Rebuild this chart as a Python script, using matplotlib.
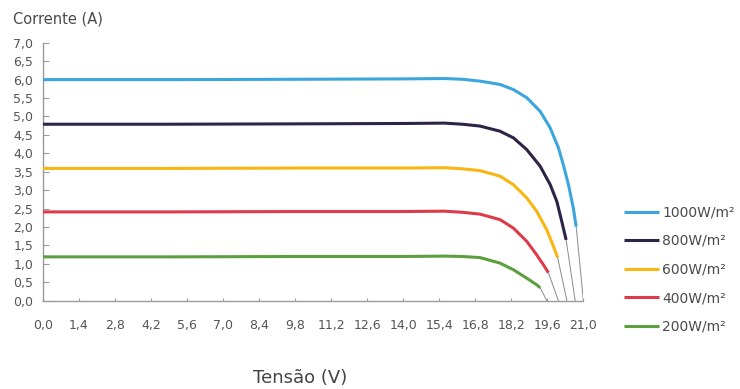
import numpy as np
import matplotlib.pyplot as plt

# curvas I-V do modulo para cada irradiancia
irradiancias = ["1000W/m²", "800W/m²", "600W/m²", "400W/m²", "200W/m²"]
cores = ["#3ba6de", "#2c2346", "#f8b612", "#dd3b4a", "#5c9f3e"]

v_1000 = [0.0, 5.0, 10.0, 14.0, 15.6, 16.3, 16.99, 17.77, 18.29, 18.81, 19.33, 19.72,
          20.04, 20.23, 20.43, 20.62, 20.73]
i_1000 = [6.00, 6.00, 6.01, 6.02, 6.03, 6.01, 5.96, 5.87, 5.73, 5.51, 5.14, 4.69,
          4.15, 3.69, 3.15, 2.51, 2.01]

v_800 = [0.0, 5.0, 10.0, 14.0, 15.6, 16.3, 16.99, 17.77, 18.29, 18.81, 19.33, 19.72,
         19.98, 20.17, 20.34]
i_800 = [4.79, 4.79, 4.80, 4.81, 4.82, 4.79, 4.74, 4.60, 4.42, 4.10, 3.65, 3.15,
         2.69, 2.15, 1.65]

v_600 = [0.0, 5.0, 10.0, 14.0, 15.6, 16.3, 16.99, 17.77, 18.29, 18.81, 19.20, 19.59,
         19.85, 20.01]
i_600 = [3.59, 3.59, 3.60, 3.60, 3.61, 3.58, 3.53, 3.38, 3.15, 2.79, 2.42, 1.92,
         1.47, 1.17]

v_400 = [0.0, 5.0, 10.0, 14.0, 15.6, 16.3, 16.99, 17.77, 18.29, 18.81, 19.20, 19.46, 19.65]
i_400 = [2.41, 2.41, 2.42, 2.42, 2.43, 2.40, 2.35, 2.20, 1.97, 1.61, 1.24, 0.97, 0.76]

v_200 = [0.0, 5.0, 10.0, 14.0, 15.6, 16.3, 16.99, 17.77, 18.29, 18.81, 19.20, 19.33]
i_200 = [1.19, 1.19, 1.20, 1.20, 1.21, 1.20, 1.17, 1.02, 0.84, 0.61, 0.43, 0.35]

# tensao de circuito aberto (fim das linhas cinzentas)
v_oc = [21.01, 20.69, 20.37, 20.04, 19.59]

x_ticks = [round(1.4 * k, 1) for k in range(16)]
y_ticks = [0.5 * k for k in range(15)]
x_labels = [f"{t:.1f}".replace(".", ",") for t in x_ticks]
y_labels = [f"{t:.1f}".replace(".", ",") for t in y_ticks]

curvas = [(v_1000, i_1000), (v_800, i_800), (v_600, i_600), (v_400, i_400), (v_200, i_200)]

fig = plt.figure(figsize=(7.4, 3.89), dpi=100)
ax = fig.add_axes([0.058, 0.227, 0.730, 0.663])

for (v, i), voc, cor, nome in zip(curvas, v_oc, cores, irradiancias):
    ax.plot([v[-1], voc], [i[-1], 0], color="#8a8a8a", lw=0.7, zorder=2)
    ax.plot(v, i, color=cor, lw=2.2, solid_capstyle="butt",
            solid_joinstyle="round", label=nome, zorder=3)

ax.set_xlim(0, 21)
ax.set_ylim(0, 7)
ax.set_xticks(x_ticks)
ax.set_xticklabels(x_labels)
ax.set_yticks(y_ticks)
ax.set_yticklabels(y_labels)

for lado in ["top", "right"]:
    ax.spines[lado].set_visible(False)
for lado in ["left", "bottom"]:
    ax.spines[lado].set_color("#9a9a9a")
    ax.spines[lado].set_linewidth(1.0)

ax.tick_params(axis="y", direction="in", length=4.5, width=0.8, color="#9a9a9a",
               labelsize=9, labelcolor="#555555", pad=7)
ax.tick_params(axis="x", direction="in", length=2.5, width=0.8, color="#9a9a9a",
               labelsize=9, labelcolor="#555555", pad=13)

fig.text(0.018, 0.952, "Corrente (A)", fontsize=10.5, color="#4a4a4a", va="center")
fig.text(0.405, 0.028, "Tensão (V)", fontsize=13, color="#444444", ha="center", va="center")

ax.legend(loc="upper left", bbox_to_anchor=(0.843, 0.472), bbox_transform=fig.transFigure,
          frameon=False, fontsize=10, handlelength=2.5, handletextpad=0.25,
          labelspacing=1.05, borderpad=0, borderaxespad=0, labelcolor="#4a4a4a")

fig.savefig("out.png", dpi=100)
